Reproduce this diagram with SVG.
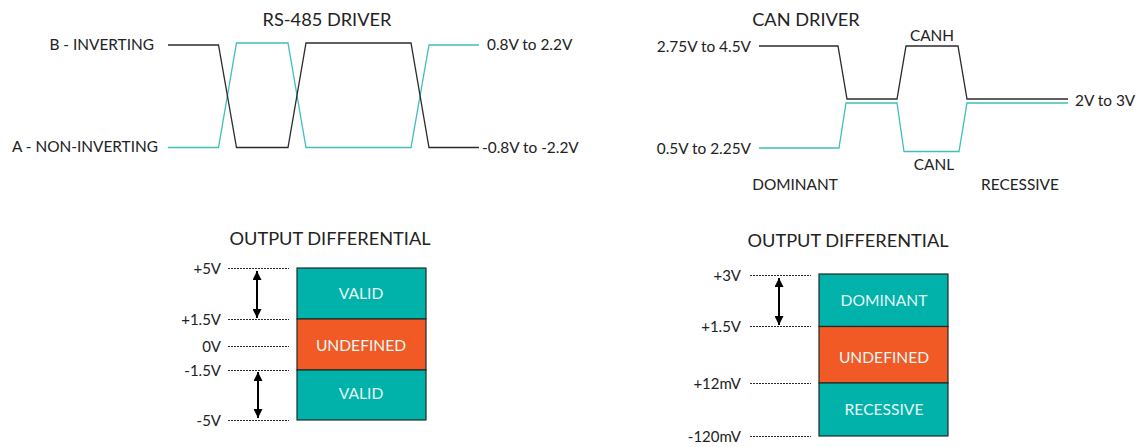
<svg xmlns="http://www.w3.org/2000/svg" width="1139" height="447" viewBox="0 0 1139 447">
<defs>
<style>
text{font-family:Lato,"Open Sans","Liberation Sans",sans-serif;fill:#222;}
.t{font-size:18.2px;text-anchor:middle;}
.l{font-size:15.4px;}
.s{font-size:15px;}
.e{text-anchor:end;}
.m{text-anchor:middle;}
.w{fill:#e6f7f5;font-size:15.6px;text-anchor:middle;}
.bk{fill:none;stroke:#2b2b2b;stroke-width:1.3;stroke-linejoin:miter;}
.tl{fill:none;stroke:#3fc0b6;stroke-width:1.3;}
.dash{stroke:#2a2a2a;stroke-width:1;stroke-dasharray:2 1;}
.arr{stroke:#000;stroke-width:2;marker-start:url(#ah);marker-end:url(#ah);}
.teal{fill:#00b2a9;stroke:#1d2b2a;stroke-width:1.2;}
.org{fill:#f15a24;stroke:#1d2b2a;stroke-width:1.2;}
</style>
<marker id="ah" viewBox="0 0 10 10" refX="10" refY="5" markerWidth="5" markerHeight="4.5" orient="auto-start-reverse" markerUnits="strokeWidth">
<path d="M0,0 L10,5 L0,10 z" fill="#000"/>
</marker>
</defs>
<rect width="1139" height="447" fill="#fff"/>

<g id="rs485-title"><text class="t" x="327" y="25.5">RS-485 DRIVER</text></g>
<g id="rs485-labels">
<text class="l e" x="154" y="49.5">B - INVERTING</text>
<text class="l e" x="158" y="152">A - NON-INVERTING</text>
<text class="l" x="487" y="50">0.8V to 2.2V</text>
<text class="l" x="482" y="152.5">-0.8V to -2.2V</text>
</g>
<g id="connectors">
<polyline class="tl" points="168,147.5 218.5,147.5 236.5,43 288,43 306,147.5 411,147.5 429,45 479,45"/>
<polyline class="bk" points="168,45 218.5,45 236.5,147.5 288,147.5 306,43 411,43 429,147.5 479,147.5"/>
<polyline class="bk" points="759,46 838,46 847,99 897,99 906,46 958,46 967,99 1068,99"/>
<polyline class="tl" points="759,148 839,148 846,103 897,103 904,151.5 959,151.5 967,103 1068,103"/>
</g>

<g id="can-title"><text class="t" x="806" y="26">CAN DRIVER</text></g>
<g id="can-labels">
<text class="l e" x="751" y="52">2.75V to 4.5V</text>
<text class="l e" x="751" y="154">0.5V to 2.25V</text>
<text class="l" x="1075" y="106">2V to 3V</text>
<text class="l m" x="932" y="41">CANH</text>
<text class="l m" x="934" y="170">CANL</text>
<text class="l m" x="795" y="190">DOMINANT</text>
<text class="l m" x="1020" y="190">RECESSIVE</text>
</g>

<g id="rs485-differential">
<text class="t" x="330" y="244.5">OUTPUT DIFFERENTIAL</text>
<line class="dash" x1="228" y1="268.5" x2="289" y2="268.5"/>
<line class="dash" x1="228" y1="319.5" x2="289" y2="319.5"/>
<line class="dash" x1="228" y1="346.5" x2="289" y2="346.5"/>
<line class="dash" x1="228" y1="370.5" x2="289" y2="370.5"/>
<line class="dash" x1="228" y1="420.5" x2="289" y2="420.5"/>
<text class="s e" x="221" y="274">+5V</text>
<text class="s e" x="221" y="325">+1.5V</text>
<text class="s e" x="221" y="352">0V</text>
<text class="s e" x="221" y="376">-1.5V</text>
<text class="s e" x="221" y="426">-5V</text>
<line class="arr" x1="257" y1="271" x2="257" y2="318"/>
<line class="arr" x1="258" y1="372" x2="258" y2="418"/>
<g id="rs485-valid-top"><rect class="teal" x="297" y="268" width="129" height="51"/><text class="w" x="361" y="298.5">VALID</text></g>
<g id="rs485-undefined"><rect class="org" x="297" y="319" width="129" height="51"/><text class="w" x="361" y="350.5">UNDEFINED</text></g>
<g id="rs485-valid-bottom"><rect class="teal" x="297" y="370" width="129" height="50"/><text class="w" x="361" y="398.5">VALID</text></g>
</g>

<g id="can-differential">
<text class="t" x="848" y="246.5">OUTPUT DIFFERENTIAL</text>
<line class="dash" x1="750" y1="275.5" x2="811" y2="275.5"/>
<line class="dash" x1="750" y1="326.5" x2="811" y2="326.5"/>
<line class="dash" x1="750" y1="383.5" x2="811" y2="383.5"/>
<line class="dash" x1="750" y1="436.5" x2="811" y2="436.5"/>
<text class="s e" x="741" y="281">+3V</text>
<text class="s e" x="741" y="332">+1.5V</text>
<text class="s e" x="741" y="388.5">+12mV</text>
<text class="s e" x="741" y="442">-120mV</text>
<line class="arr" x1="779" y1="278" x2="779" y2="325"/>
<g id="can-dominant"><rect class="teal" x="819" y="274" width="129" height="52.5"/><text class="w" x="884" y="305.5">DOMINANT</text></g>
<g id="can-undefined"><rect class="org" x="819" y="326.5" width="129" height="56.5"/><text class="w" x="884" y="362.5">UNDEFINED</text></g>
<g id="can-recessive"><rect class="teal" x="819" y="383" width="129" height="53"/><text class="w" x="884" y="414.5">RECESSIVE</text></g>
</g>
</svg>
